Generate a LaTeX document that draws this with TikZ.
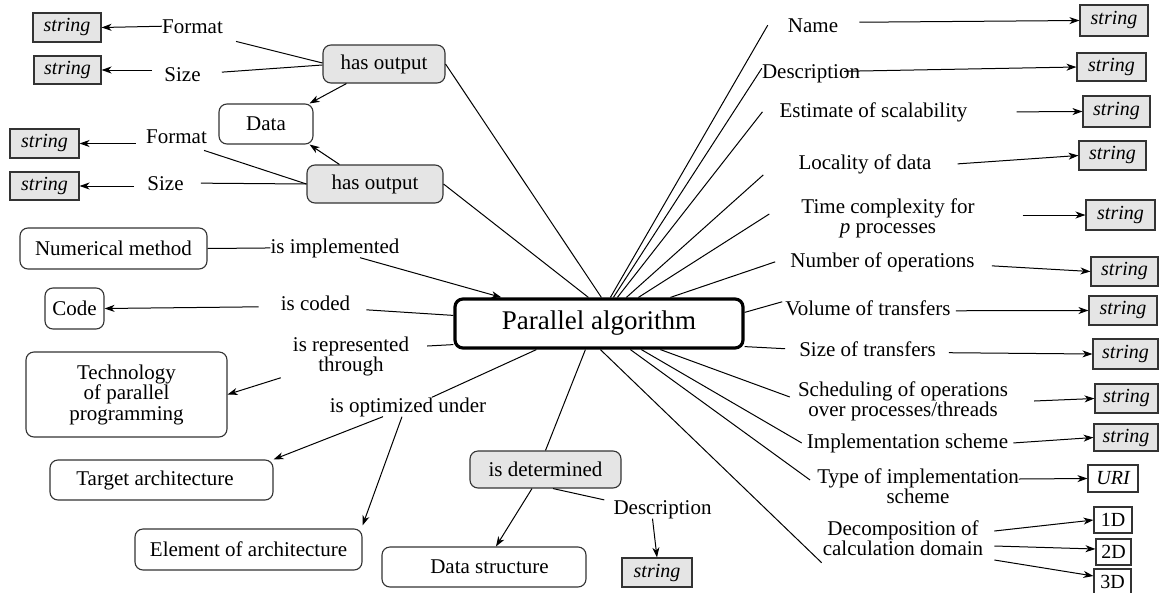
\documentclass[tikz,border=0pt]{standalone}
\usepackage{fontspec}
\setmainfont{Liberation Serif}
\usetikzlibrary{arrows.meta}
\begin{document}
\begin{tikzpicture}[x=1pt,y=-1pt,
  lbl/.style={font=\fontsize{21}{20}\selectfont, inner sep=0pt, align=center},
  sbox/.style={draw=black!80, fill=black!10, line width=1.1pt, inner sep=0pt,
    font=\fontsize{20}{20}\selectfont\itshape},
  vbox/.style={draw=black!80, fill=white, line width=1.1pt, inner sep=0pt,
    font=\fontsize{20}{20}\selectfont},
  rbox/.style={draw=black!80, fill=white, rounded corners=8pt, line width=1.1pt,
    inner sep=0pt, align=center, font=\fontsize{21}{20.5}\selectfont},
  gbox/.style={rbox, fill=black!10},
  conn/.style={line width=1pt, black},
  arr/.style={conn, -{Stealth[length=10pt,width=7pt,inset=3pt]}}
]
\useasboundingbox (0,0) rectangle (1159,592);

% central concept
\node[draw=black, line width=3.2pt, rounded corners=8pt, fill=white,
  minimum width=288pt, minimum height=49pt, inner sep=0pt,
  font=\fontsize{27}{27}\selectfont] (pa) at (599,323.5) {Parallel algorithm};

% ---------- outputs (upper left) ----------
\node[gbox, minimum width=122pt, minimum height=38pt] (ho1) at (384,64) {has output};
\node[gbox, minimum width=136pt, minimum height=38pt] (ho2) at (375,184) {has output};
\node[rbox, minimum width=94pt, minimum height=40pt] (data) at (266,124) {Data};

\node[lbl, anchor=base] (fmt1) at (192.5,33) {Format};
\node[lbl, anchor=base] (sz1) at (182.5,81) {Size};
\node[lbl, anchor=base] (fmt2) at (176.5,143) {Format};
\node[lbl, anchor=base] (sz2) at (165.5,190) {Size};

\node[sbox, minimum width=68pt, minimum height=29pt] (s1) at (67,27.5) {string};
\node[sbox, minimum width=67pt, minimum height=28pt] (s2) at (67.5,70) {string};
\node[sbox, minimum width=69pt, minimum height=29pt] (s3) at (44.5,143.5) {string};
\node[sbox, minimum width=69pt, minimum height=28pt] (s4) at (44.5,186) {string};

\draw[arr] (fmt1.west) -- (s1.east);
\draw[arr] ([xshift=-12pt]sz1.west |- s2.east) -- (s2.east);
\draw[arr] ([xshift=-10pt]fmt2.west |- s3.east) -- (s3.east);
\draw[arr] ([xshift=-13pt]sz2.west |- s4.east) -- (s4.east);
\draw[conn] ([shift={(13pt,-8pt)}]fmt1.south east) -- ([yshift=1pt]ho1.west);
\draw[conn] ([shift={(21pt,2pt)}]sz1.east) -- ([yshift=-1pt]ho1.west);
\draw[conn] ([shift={(-3pt,-7pt)}]fmt2.south east) -- (ho2.west);
\draw[conn] ([xshift=17pt]sz2.east) -- (ho2.west);
\draw[arr] ([xshift=24pt]ho1.south west) -- ([xshift=-4pt]data.north east);
\draw[arr] ([xshift=33pt]ho2.north west) -- ([xshift=-4pt]data.south east);
\draw[conn] (ho1.east) -- ([xshift=148pt]pa.north west);
\draw[conn] (ho2.east) -- ([xshift=135pt]pa.north west);

% ---------- relations (left) ----------
\node[rbox, minimum width=187pt, minimum height=41pt] (num) at (113.5,248.5) {Numerical method};
\node[rbox, minimum width=59pt, minimum height=41pt] (code) at (74.5,308.5) {Code};
\node[rbox, minimum width=201pt, minimum height=85pt] (tech) at (126.5,394.5)
  {Technology\\of parallel\\programming};
\node[rbox, minimum width=223pt, minimum height=40pt] (target) at (161.5,480)
  {\hspace*{-13pt}Target architecture};
\node[rbox, minimum width=227pt, minimum height=41pt] (elem) at (248.5,549.5) {Element of architecture};

\node[lbl, anchor=base] (impl) at (335,253) {is implemented};
\node[lbl, anchor=base] (coded) at (315.5,310) {is coded};
\node[lbl] (repr) at (351,356.5) {is represented\\through};
\node[lbl, anchor=base] (opt) at (408,412) {is optimized under};

\draw[conn] (num.east) -- (impl.west);
\draw[arr] ([xshift=25pt]impl.south) -- ([xshift=48pt]pa.north west);
\draw[arr] ([shift={(-22pt,-4pt)}]coded.west) -- (code.east);
\draw[conn] ([shift={(16pt,-7pt)}]coded.east) -- ([yshift=-18pt]pa.north west);
\draw[conn] ([shift={(18pt,10.5pt)}]repr.east) -- ([yshift=5pt]pa.south west);
\draw[arr] ([shift={(-12pt,-1.5pt)}]repr.south west) -- (tech.east);
\draw[conn] ([xshift=83pt]pa.south west) -- ([xshift=24pt]opt.north);
\draw[arr] ([xshift=-25pt]opt.south) -- (target.north east);
\draw[arr] ([xshift=-6pt]opt.south) -- ([yshift=3pt]elem.north east);

% ---------- data structure (bottom) ----------
\node[gbox, minimum width=151pt, minimum height=37pt] (det) at (545.5,469.5) {is determined};
\node[rbox, minimum width=204pt, minimum height=40pt] (dstruct) at (484,567)
  {\hspace*{11pt}Data structure};
\node[lbl, anchor=base] (desc2) at (662.5,514) {Description};
\node[sbox, minimum width=70pt, minimum height=29pt] (sdesc) at (657,572.5) {string};

\draw[conn] ([xshift=132pt]pa.south west) -- (det.north);
\draw[arr] ([xshift=-13.5pt]det.south) -- ([xshift=12pt]dstruct.north);
\draw[conn] ([xshift=7.5pt]det.south) -- ([xshift=-9pt]desc2.north west);
\draw[arr] ([xshift=-10pt]desc2.south) -- (sdesc.north);

% ---------- attributes (right) ----------
\node[lbl, anchor=base] (name) at (813,32) {Name};
\node[lbl, anchor=base] (desc) at (811,78) {Description};
\node[lbl, anchor=base] (est) at (873.5,117) {Estimate of scalability};
\node[lbl, anchor=base] (loc) at (865,169) {Locality of data};
\node[lbl] (tc) at (888,218) {Time complexity for\\\textit{p} processes};
\node[lbl, anchor=base] (nops) at (882.5,267) {Number of operations};
\node[lbl, anchor=base] (vol) at (868,315) {Volume of transfers};
\node[lbl, anchor=base] (sot) at (867.5,356) {Size of transfers};
\node[lbl] (sched) at (903,401) {Scheduling of operations\\over processes/threads};
\node[lbl, anchor=base] (imp) at (907.5,448) {Implementation scheme};
\node[lbl] (typ) at (918,486) {Type of implementation\\scheme};
\node[lbl] (dec) at (903,538) {Decomposition of\\calculation domain};

\node[sbox, minimum width=68pt, minimum height=31pt] (sr1) at (1114,20.5) {string};
\node[sbox, minimum width=69pt, minimum height=28pt] (sr2) at (1111.5,67) {string};
\node[sbox, minimum width=67pt, minimum height=31pt] (sr3) at (1116.5,111.5) {string};
\node[sbox, minimum width=67pt, minimum height=29pt] (sr4) at (1112.5,155.5) {string};
\node[sbox, minimum width=69pt, minimum height=30pt] (sr5) at (1120.5,215) {string};
\node[sbox, minimum width=67pt, minimum height=29pt] (sr6) at (1124.5,271.5) {string};
\node[sbox, minimum width=68pt, minimum height=29pt] (sr7) at (1123,310.5) {string};
\node[sbox, minimum width=65pt, minimum height=30pt] (sr8) at (1125.5,354) {string};
\node[sbox, minimum width=63pt, minimum height=29pt] (sr9) at (1126.5,398.5) {string};
\node[sbox, minimum width=64pt, minimum height=27pt] (sr10) at (1126,437.5) {string};
\node[vbox, minimum width=50pt, minimum height=27pt, font=\fontsize{20}{20}\selectfont\itshape] (uri) at (1113,478.5) {URI};
\node[vbox, minimum width=38pt, minimum height=26pt] (d1) at (1113,520) {1D};
\node[vbox, minimum width=35pt, minimum height=26pt] (d2) at (1113.5,552) {2D};
\node[vbox, minimum width=37pt, minimum height=26pt] (d3) at (1112.5,582) {3D};

% spokes from the central concept
\draw[conn] ([xshift=157pt]pa.north west) -- ([xshift=-20pt]name.west);
\draw[conn] ([xshift=160pt]pa.north west) -- ([yshift=5pt]desc.west);
\draw[conn] ([xshift=164pt]pa.north west) -- ([xshift=-17pt]est.west);
\draw[conn] ([xshift=173pt]pa.north west) -- ([shift={(-35pt,-11pt)}]loc.west);
\draw[conn] ([xshift=185pt]pa.north west) -- ([shift={(-32pt,4pt)}]tc.west);
\draw[conn] ([xshift=217pt]pa.north west) -- ([xshift=-15pt]nops.west);
\draw[conn] ([yshift=-15pt]pa.north east) -- ([shift={(-3pt,6pt)}]vol.west);
\draw[conn] ([yshift=3pt]pa.south east) -- ([xshift=-14pt]sot.west);
\draw[conn] ([xshift=207pt]pa.south west) -- ([shift={(-8pt,4pt)}]sched.west);
\draw[conn] ([xshift=188pt]pa.south west) -- ([xshift=-5pt]imp.west);
\draw[conn] ([xshift=177pt]pa.south west) -- ([shift={(-7pt,6pt)}]typ.west);
\draw[conn] ([xshift=147pt]pa.south west) -- ([shift={(-1pt,-7pt)}]dec.south west);

% attribute values
\draw[arr] ([shift={(21pt,3pt)}]name.east) -- (sr1.west);
\draw[arr] ([shift={(-16pt,2pt)}]desc.east) -- (sr2.west);
\draw[arr] ([xshift=49pt]est.east) -- (sr3.west);
\draw[arr] ([xshift=26pt]loc.east) -- (sr4.west);
\draw[arr] ([shift={(48pt,3pt)}]tc.east) -- (sr5.west);
\draw[arr] ([shift={(17pt,-4pt)}]nops.east) -- (sr6.west);
\draw[arr] ([shift={(5pt,-3pt)}]vol.east) -- (sr7.west);
\draw[arr] ([shift={(13pt,-4pt)}]sot.east) -- (sr8.west);
\draw[arr] ([xshift=26pt]sched.east) -- (sr9.west);
\draw[arr] ([xshift=5pt]imp.east) -- (sr10.west);
\draw[arr] ([yshift=7pt]typ.east) -- (uri.west);
\draw[arr] ([shift={(11pt,7pt)}]dec.east) -- (d1.west);
\draw[arr] ([shift={(11pt,-8pt)}]dec.east) -- ([yshift=3pt]d2.west);
\draw[arr] ([shift={(11pt,-22pt)}]dec.east) -- ([yshift=6pt]d3.west);
\end{tikzpicture}
\end{document}
